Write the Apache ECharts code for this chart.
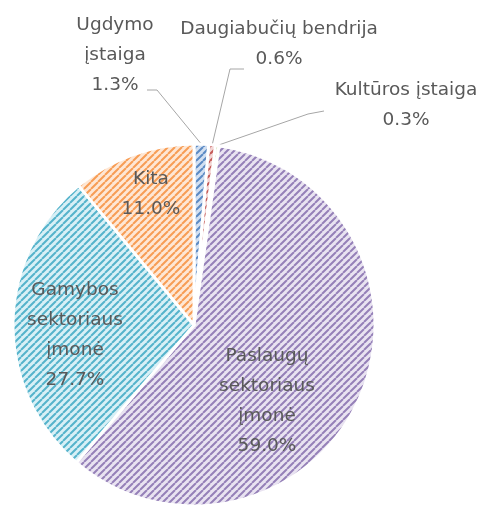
<!DOCTYPE html>
<html>
<head>
<meta charset="utf-8">
<script src="https://cdn.jsdelivr.net/npm/echarts@6/dist/echarts.min.js"></script>
<style>
html,body{margin:0;padding:0;background:#fff;}
#chart{width:488px;height:505px;}
</style>
</head>
<body>
<div id="chart"></div>
<script>
// ---- data ----
const categories = ['Ugdymo įstaiga', 'Daugiabučių bendrija', 'Kultūros įstaiga',
  'Paslaugų sektoriaus įmonė', 'Gamybos sektoriaus įmonė', 'Kita'];
const labelNames = ['Ugdymo\nįstaiga', 'Daugiabučių bendrija', 'Kultūros įstaiga',
  'Paslaugų\nsektoriaus\nįmonė', 'Gamybos\nsektoriaus\nįmonė', 'Kita'];
const shares = [1.3, 0.6, 0.3, 59.0, 27.7, 11.0];

// ---- styles ----
const fills = [
  ['#D3E0F1', '#5B8AC4'],
  ['#F3D6D5', '#C45A57'],
  ['#E6EFD6', '#9BBB59'],
  ['#E9E3F1', '#9580B8'],
  ['#D8F0F6', '#55B3CB'],
  ['#FEE7D5', '#F79D55']
];
function stripe(bg, fg) {
  const T = 7;
  const c = document.createElement('canvas');
  c.width = T; c.height = T;
  const g = c.getContext('2d');
  g.fillStyle = bg; g.fillRect(0, 0, T, T);
  g.strokeStyle = fg; g.lineWidth = 2;
  g.beginPath();
  for (let k = -1; k <= 1; k++) { g.moveTo(k * T, T); g.lineTo(k * T + T, 0); }
  g.stroke();
  return { image: c, repeat: 'repeat' };
}
// label layout (anchor = centre of text block)
const spots = [
  { x: 115, y: 55, line: [[157, 90], [147, 90]] },
  { x: 279, y: 44, line: [[230, 69], [244, 69]] },
  { x: 406, y: 105, line: [[308, 114], [324, 111]] },
  { x: 267, y: 401 },
  { x: 75, y: 335 },
  { x: 151, y: 194 }
];
const outside = [true, true, true, false, false, false];

const chart = echarts.init(document.getElementById('chart'), null, { renderer: 'canvas' });
chart.setOption({
  animation: false,
  series: [{
    type: 'pie',
    center: [194, 325],
    radius: 181,
    startAngle: 90,
    clockwise: true,
    avoidLabelOverlap: false,
    itemStyle: { borderColor: '#ffffff', borderWidth: 3 },
    label: {
      color: '#595959',
      fontFamily: 'DejaVu Sans',
      fontSize: 18.5,
      lineHeight: 30,
      align: 'center'
    },
    labelLine: { lineStyle: { color: '#A6A6A6', width: 1 } },
    emphasis: { disabled: true },
    data: categories.map((name, i) => ({
      name: name,
      value: shares[i],
      itemStyle: { color: stripe(fills[i][0], fills[i][1]) },
      label: {
        position: outside[i] ? 'outside' : 'inside',
        formatter: labelNames[i] + '\n' + shares[i].toFixed(1) + '%'
      },
      labelLine: { show: outside[i], length: 10, length2: 10 }
    })),
    labelLayout: function (p) {
      const s = spots[p.dataIndex];
      const out = { x: s.x, y: s.y, align: 'center', verticalAlign: 'middle' };
      if (s.line && p.labelLinePoints) {
        out.labelLinePoints = [p.labelLinePoints[0], s.line[0], s.line[1]];
      }
      return out;
    }
  }]
});
</script>
</body>
</html>
